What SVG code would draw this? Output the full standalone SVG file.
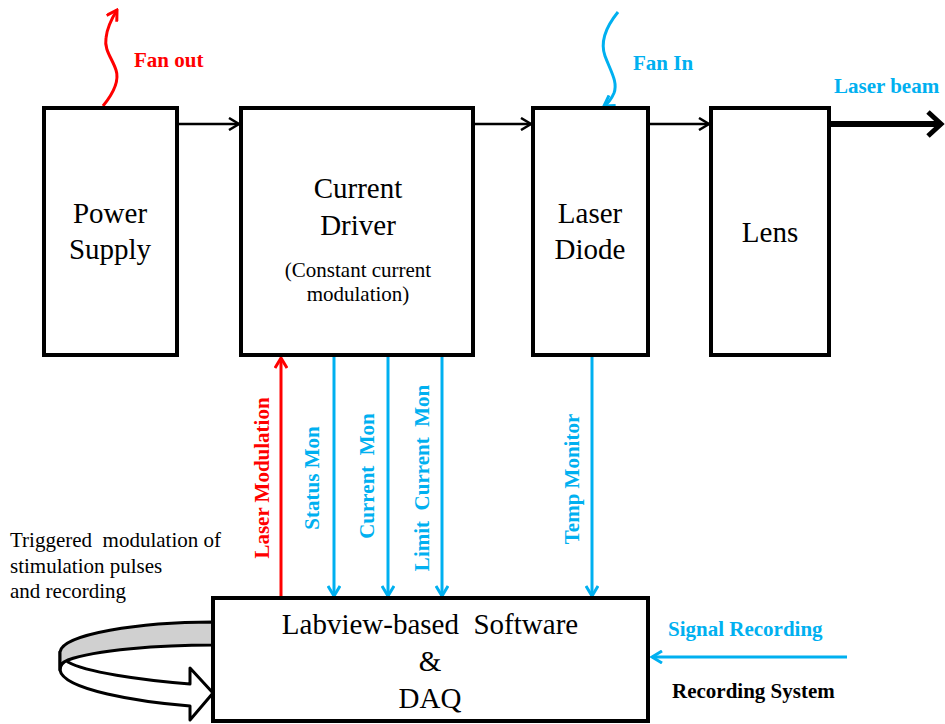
<svg xmlns="http://www.w3.org/2000/svg" width="945" height="724" viewBox="0 0 945 724">
<style>
.box{fill:#fff;stroke:#000;stroke-width:4}
.t{font-family:"Liberation Serif","Times New Roman",serif;fill:#000;text-anchor:middle}
.big{font-size:29px}
.sm{font-size:21px}
.b{font-family:"Liberation Serif","Times New Roman",serif;font-weight:bold;font-size:21px}
.n{font-family:"Liberation Serif","Times New Roman",serif;font-size:21px}
.red{fill:#FF0000}
.blue{fill:#00B0F0}
.lk{stroke:#000;stroke-width:2.5;fill:none}
.lr{stroke:#FF0000;stroke-width:3;fill:none}
.lb{stroke:#00B0F0;stroke-width:3;fill:none}
</style>
<defs>
<marker id="ak" markerUnits="userSpaceOnUse" viewBox="0 0 14 14" markerWidth="14" markerHeight="14" refX="12" refY="7" orient="auto"><path d="M2,1 L12,7 L2,13" fill="none" stroke="#000" stroke-width="2.5"/></marker>
<marker id="ar" markerUnits="userSpaceOnUse" viewBox="0 0 14 14" markerWidth="14" markerHeight="14" refX="12" refY="7" orient="auto"><path d="M2,1 L12,7 L2,13" fill="none" stroke="#FF0000" stroke-width="3"/></marker>
<marker id="ab" markerUnits="userSpaceOnUse" viewBox="0 0 14 14" markerWidth="14" markerHeight="14" refX="12" refY="7" orient="auto"><path d="M2,1 L12,7 L2,13" fill="none" stroke="#00B0F0" stroke-width="3"/></marker>
<marker id="akb" markerUnits="userSpaceOnUse" viewBox="0 0 20 28" markerWidth="20" markerHeight="28" refX="16" refY="14" orient="auto"><path d="M3,2 L16,14 L3,26" fill="none" stroke="#000" stroke-width="5"/></marker>
</defs>

<g id="connectors">
<line class="lk" x1="179" y1="124" x2="239" y2="124" marker-end="url(#ak)"/>
<line class="lk" x1="475" y1="124" x2="531" y2="124" marker-end="url(#ak)"/>
<line class="lk" x1="650" y1="124" x2="709" y2="124" marker-end="url(#ak)"/>
<line x1="831" y1="124" x2="941" y2="124" stroke="#000" stroke-width="6" marker-end="url(#akb)"/>
<path class="lr" d="M103,106 C112,95 120,82 116,70 C112,58 104,50 106,38 C107,28 112,18 117,10" marker-end="url(#ar)"/>
<path class="lb" d="M618,12 C605,28 600,42 605,56 C611,72 618,82 614,93 C611,100 607,104 604,106" marker-end="url(#ab)"/>
<line class="lr" x1="281" y1="597" x2="281" y2="358" marker-end="url(#ar)"/>
<line class="lb" x1="334" y1="357" x2="334" y2="596" marker-end="url(#ab)"/>
<line class="lb" x1="388" y1="357" x2="388" y2="596" marker-end="url(#ab)"/>
<line class="lb" x1="442" y1="357" x2="442" y2="596" marker-end="url(#ab)"/>
<line class="lb" x1="592" y1="357" x2="592" y2="596" marker-end="url(#ab)"/>
<line class="lb" x1="847" y1="657" x2="652" y2="657" marker-end="url(#ab)"/>
<path d="M60,652 L60,670 C63,690 140,702 190,706 L190,720 L213,693 L190,668 L190,684 C140,680 85,672 68,662 Z" fill="#fff" stroke="#000" stroke-width="3" stroke-linejoin="round"/>
<path d="M213,622 C140,622 62,634 60,652 L60,670 C60,665 63,662 68,660 C95,650 160,645 213,645 Z" fill="#D0D0D0" stroke="#000" stroke-width="3" stroke-linejoin="round"/>
</g>

<g id="power-supply">
<rect class="box" x="44" y="108" width="133" height="247"/>
<text class="t big" x="110" y="223">Power</text>
<text class="t big" x="110" y="259">Supply</text>
</g>
<g id="current-driver">
<rect class="box" x="241" y="108" width="232" height="247"/>
<text class="t big" x="358" y="198">Current</text>
<text class="t big" x="358" y="235">Driver</text>
<text class="t sm" x="358" y="277">(Constant current</text>
<text class="t sm" x="358" y="301">modulation)</text>
</g>
<g id="laser-diode">
<rect class="box" x="533" y="108" width="115" height="247"/>
<text class="t big" x="590" y="223">Laser</text>
<text class="t big" x="590" y="259">Diode</text>
</g>
<g id="lens">
<rect class="box" x="711" y="108" width="118" height="247"/>
<text class="t big" x="770" y="242">Lens</text>
</g>
<g id="daq">
<rect class="box" x="213" y="598" width="435" height="123"/>
<text class="t big" x="430" y="634" xml:space="preserve">Labview-based  Software</text>
<text class="t big" x="430" y="671">&amp;</text>
<text class="t big" x="430" y="708">DAQ</text>
</g>

<g id="labels">
<text class="b red" x="134" y="67">Fan out</text>
<text class="b blue" x="633" y="70">Fan In</text>
<text class="b blue" x="834" y="93">Laser beam</text>
<text class="b red" text-anchor="middle" transform="translate(269,478) rotate(-90)">Laser Modulation</text>
<text class="b blue" text-anchor="middle" transform="translate(319,478) rotate(-90)">Status Mon</text>
<text class="b blue" text-anchor="middle" transform="translate(374,476) rotate(-90)" xml:space="preserve">Current  Mon</text>
<text class="b blue" text-anchor="middle" transform="translate(429,478) rotate(-90)" xml:space="preserve">Limit  Current  Mon</text>
<text class="b blue" text-anchor="middle" transform="translate(579,479) rotate(-90)">Temp Monitor</text>
<text class="b blue" x="668" y="636">Signal Recording</text>
<text class="b" x="672" y="698" font-size="22">Recording System</text>
<text class="n" x="10" y="547" xml:space="preserve">Triggered  modulation of</text>
<text class="n" x="10" y="573">stimulation pulses</text>
<text class="n" x="10" y="598">and recording</text>
</g>
</svg>
